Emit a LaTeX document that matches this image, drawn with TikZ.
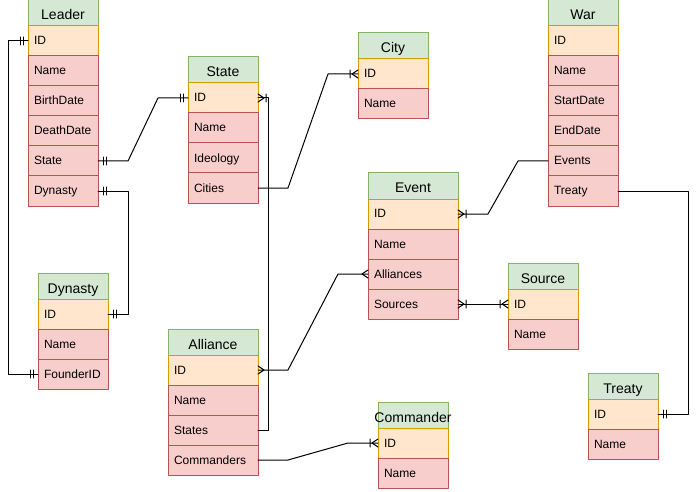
\documentclass[tikz,border=0pt]{standalone}
\usepackage{fontspec}
\setmainfont{Liberation Sans}

\definecolor{hdfill}{HTML}{D5E8D4}
\definecolor{hddraw}{HTML}{82B366}
\definecolor{idfill}{HTML}{FFE6CC}
\definecolor{iddraw}{HTML}{D79B00}
\definecolor{rowfill}{HTML}{F8CECC}
\definecolor{rowdraw}{HTML}{B85450}

% crow's foot ends
\pgfdeclarearrow{
  name=ERone,
  setup code={\pgfarrowssettipend{0pt}\pgfarrowssetlineend{0pt}\pgfarrowssetbackend{-6pt}},
  drawing code={
    \pgfpathmoveto{\pgfqpoint{-3.75pt}{3pt}}\pgfpathlineto{\pgfqpoint{-3.75pt}{-3pt}}
    \pgfpathmoveto{\pgfqpoint{-6pt}{3pt}}\pgfpathlineto{\pgfqpoint{-6pt}{-3pt}}
    \pgfusepathqstroke}
}
\pgfdeclarearrow{
  name=ERmany,
  setup code={\pgfarrowssettipend{0pt}\pgfarrowssetlineend{0pt}\pgfarrowssetbackend{-4.5pt}},
  drawing code={
    \pgfpathmoveto{\pgfqpoint{0pt}{3pt}}\pgfpathlineto{\pgfqpoint{-4.5pt}{0pt}}
    \pgfpathlineto{\pgfqpoint{0pt}{-3pt}}
    \pgfusepathqstroke}
}
\pgfdeclarearrow{
  name=ERoneMany,
  setup code={\pgfarrowssettipend{0pt}\pgfarrowssetlineend{0pt}\pgfarrowssetbackend{-6pt}},
  drawing code={
    \pgfpathmoveto{\pgfqpoint{0pt}{3pt}}\pgfpathlineto{\pgfqpoint{-4.5pt}{0pt}}
    \pgfpathlineto{\pgfqpoint{0pt}{-3pt}}
    \pgfpathmoveto{\pgfqpoint{-6pt}{3pt}}\pgfpathlineto{\pgfqpoint{-6pt}{-3pt}}
    \pgfusepathqstroke}
}

\tikzset{
  box/.style={line width=0.75pt,outer sep=0pt,anchor=north west},
  hd/.style={box,draw=hddraw,fill=hdfill,inner sep=0pt,minimum width=#1,minimum height=19.5pt,
    text height=10.5pt,text depth=0pt,font=\fontsize{10.5}{12}\selectfont},
  hd/.default=52.5pt,
  fld/.style={box,draw=rowdraw,fill=rowfill,inner xsep=4.5pt,inner ysep=0pt,text width=#1,
    minimum height=22.5pt,text height=6.5pt,text depth=0.5pt,align=left,font=\fontsize{9}{11}\selectfont},
  fld/.default=43.5pt,
  key/.style={fld=#1,draw=iddraw,fill=idfill},
  key/.default=43.5pt,
  rel/.style={line width=0.75pt,color=black}
}

\begin{document}
\begin{tikzpicture}[line cap=round,line join=round,x=0.75pt,y=-0.75pt]
\useasboundingbox (0,0) rectangle (697,492);
% Leader
\node[hd] (leader) at (28,0) {Leader};
\node[key] (leader-ID) at (28,26) {ID};
\foreach \f [count=\i] in {Name,BirthDate,DeathDate,State,Dynasty}
\node[fld] (leader-\f) at (28,26+30*\i) {\f};
% State
\node[hd] (state) at (188,57) {State};
\node[key] (state-ID) at (188,83) {ID};
\foreach \f [count=\i] in {Name,Ideology,Cities}
\node[fld] (state-\f) at (188,83+30*\i) {\f};
% City
\node[hd] (city) at (358,33) {City};
\node[key] (city-ID) at (358,59) {ID};
\node[fld] (city-Name) at (358,89) {Name};
% War
\node[hd] (war) at (548,0) {War};
\node[key] (war-ID) at (548,26) {ID};
\foreach \f [count=\i] in {Name,StartDate,EndDate,Events,Treaty}
\node[fld] (war-\f) at (548,26+30*\i) {\f};
% Event
\node[hd=67.5pt] (event) at (368,173) {Event};
\node[key=58.5pt] (event-ID) at (368,199) {ID};
\foreach \f [count=\i] in {Name,Alliances,Sources}
\node[fld=58.5pt] (event-\f) at (368,199+30*\i) {\f};
% Dynasty
\node[hd] (dynasty) at (38,273) {Dynasty};
\node[key] (dynasty-ID) at (38,299) {ID};
\foreach \f [count=\i] in {Name,FounderID}
\node[fld] (dynasty-\f) at (38,299+30*\i) {\f};
% Source
\node[hd] (source) at (508,263) {Source};
\node[key] (source-ID) at (508,289) {ID};
\node[fld] (source-Name) at (508,319) {Name};
% Alliance
\node[hd=67.5pt] (alliance) at (168,329) {Alliance};
\node[key=58.5pt] (alliance-ID) at (168,355) {ID};
\foreach \f [count=\i] in {Name,States,Commanders}
\node[fld=58.5pt] (alliance-\f) at (168,355+30*\i) {\f};
% Treaty
\node[hd] (treaty) at (588,373) {Treaty};
\node[key] (treaty-ID) at (588,399) {ID};
\node[fld] (treaty-Name) at (588,429) {Name};
% Commander
\node[hd] (commander) at (378,402) {\hbox to 0pt{\hss Commander\hss}};
\node[key] (commander-ID) at (378,428) {ID};
\node[fld] (commander-Name) at (378,458) {Name};

% relations
\draw[rel,ERone-ERone] (leader-ID.west) -- ++(-20,0) |- (dynasty-FounderID.west);
\draw[rel,ERone-ERone] (leader-State.east) -- ++(30,0) -- ([xshift=-22.5pt]state-ID.west) -- (state-ID.west);
\draw[rel,ERone-ERone] (leader-Dynasty.east) -- ++(30,0) |- (dynasty-ID.east);
\draw[rel,ERoneMany-] (state-ID.east) -- ++(10,0) |- (alliance-States.east);
\draw[rel,-ERoneMany] (state-Cities.east) -- ++(30,0) -- ([xshift=-22.5pt]city-ID.west) -- (city-ID.west);
\draw[rel,-ERoneMany] (war-Events.west) -- ++(-30,0) -- ([xshift=22.5pt]event-ID.east) -- (event-ID.east);
\draw[rel,-ERone] (war-Treaty.east) -- ++(70,0) |- (treaty-ID.east);
\draw[rel,ERmany-ERmany] (event-Alliances.west) -- ++(-30,0) -- ([xshift=22.5pt]alliance-ID.east) -- (alliance-ID.east);
\draw[rel,ERoneMany-ERoneMany] (event-Sources.east) -- (source-ID.west);
\draw[rel,-ERoneMany] (alliance-Commanders.east) -- ++(30,0) -- ([xshift=-22.5pt]commander-ID.west) -- (commander-ID.west);
\end{tikzpicture}
\end{document}
